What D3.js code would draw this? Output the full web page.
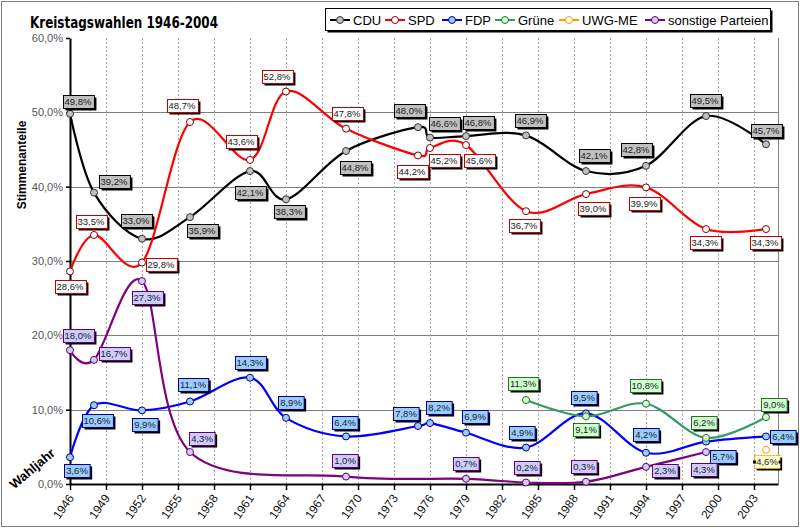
<!DOCTYPE html>
<html>
<head>
<meta charset="utf-8">
<script src="https://cdn.jsdelivr.net/npm/d3@7"></script>
<style>
  body { margin: 0; background: #fff; }
  svg { display: block; }
</style>
</head>
<body>
<div id="chart"></div>
<script>
// election years and results (%) per party, null = not on the ballot
var years    = [1946, 1948, 1952, 1956, 1961, 1964, 1969, 1975, 1976, 1979, 1984, 1989, 1994, 1999, 2004];
var cdu      = [49.8, 39.2, 33.0, 35.9, 42.1, 38.3, 44.8, 48.0, 46.6, 46.8, 46.9, 42.1, 42.8, 49.5, 45.7];
var spd      = [28.6, 33.5, 29.8, 48.7, 43.6, 52.8, 47.8, 44.2, 45.2, 45.6, 36.7, 39.0, 39.9, 34.3, 34.3];
var fdp      = [3.6, 10.6, 9.9, 11.1, 14.3, 8.9, 6.4, 7.8, 8.2, 6.9, 4.9, 9.5, 4.2, 5.7, 6.4];
var gruene   = [null, null, null, null, null, null, null, null, null, null, 11.3, 9.1, 10.8, 6.2, 9.0];
var uwg      = [null, null, null, null, null, null, null, null, null, null, null, null, null, null, 4.6];
var sonstige = [18.0, 16.7, 27.3, 4.3, null, null, 1.0, null, null, 0.7, 0.2, 0.3, 2.3, 4.3, null];

var partyNames = ["CDU", "SPD", "FDP", "Grüne", "UWG-ME", "sonstige Parteien"];
var xTickYears = [1946, 1949, 1952, 1955, 1958, 1961, 1964, 1967, 1970, 1973, 1976, 1979, 1982, 1985, 1988, 1991, 1994, 1997, 2000, 2003];
var yTicks = [0, 10, 20, 30, 40, 50, 60];

// where each data label box sits, relative to its point (dx, dy of the box centre)
var cduLab  = [[8,-12],[20,-11],[-6,-18],[12,13],[0,21],[3,12],[9,17],[-9,-17],[14,-14],[12,-14],[4,-15],[8,-16],[-10,-16],[-1,-16],[0,-14]];
var spdLab  = [[0,15],[-3,-13],[19,2],[-8,-16],[-9,-18],[-9,-15],[1,-15],[-6,16],[14,12],[13,15],[-2,14],[7,14],[-2,16],[-1,13],[-1,13]];
var fdpLab  = [[7,13],[3,15],[3,14],[3,-17],[0,-15],[5,-15],[-1,-14],[-12,-13],[9,-16],[9,-16],[-4,-15],[-2,-16],[0,-18],[17,15],[17,0]];
var gruLab  = [null,null,null,null,null,null,null,null,null,null,[-3,-17],[0,13],[-1,-18],[-2,-15],[8,-13]];
var uwgLab  = [null,null,null,null,null,null,null,null,null,null,null,null,null,null,[1,12]];
var sonLab  = [[8,-15],[20,-6],[5,16],[12,-14],null,null,[-1,-16],null,null,[0,-15],[1,-15],[-2,-15],[19,4],[-2,17],null];

var width = 800, height = 528;
var margin = {top: 38, right: 22, bottom: 44, left: 70};

var x = d3.scaleLinear().domain([1946, 2005]).range([margin.left, width - margin.right]);
var y = d3.scaleLinear().domain([0, 60]).range([height - margin.bottom, margin.top]);

var series = [
  {name: partyNames[0], values: cdu,      labs: cduLab, line: "#000000", marker: "#c0c0c0", mstroke: "#333333", box: "#c0c0c0", boxStroke: "#000000"},
  {name: partyNames[1], values: spd,      labs: spdLab, line: "#ff0000", marker: "#ffffff", mstroke: "#800000", box: "#ffffff", boxStroke: "#c00000"},
  {name: partyNames[2], values: fdp,      labs: fdpLab, line: "#0000ff", marker: "#99ccff", mstroke: "#000080", box: "#99ccff", boxStroke: "#000080"},
  {name: partyNames[3], values: gruene,   labs: gruLab, line: "#339966", marker: "#ccffcc", mstroke: "#336633", box: "#ccffcc", boxStroke: "#336633"},
  {name: partyNames[4], values: uwg,      labs: uwgLab, line: "#ff9900", marker: "#ffffff", mstroke: "#ff9900", box: "#ffffcc", boxStroke: "#ff9900"},
  {name: partyNames[5], values: sonstige, labs: sonLab, line: "#800080", marker: "#ccccff", mstroke: "#660066", box: "#ccccff", boxStroke: "#660066"}
];

var fmt = function(v) { return v.toFixed(1).replace(".", ",") + "%"; };

var svg = d3.select("#chart").append("svg")
    .attr("width", width)
    .attr("height", height);

// outer chart border (dotted, like the excel frame)
svg.append("rect")
    .attr("x", 1.5).attr("y", 1.5)
    .attr("width", width - 3).attr("height", height - 3)
    .attr("fill", "#fff")
    .attr("stroke", "#000")
    .attr("stroke-dasharray", "1,1");

// horizontal gridlines
svg.append("g").selectAll("line")
    .data(yTicks.filter(function(d) { return d > 0 && d < 60; }))
    .enter().append("line")
    .attr("x1", x(1946)).attr("x2", x(2005))
    .attr("y1", function(d) { return Math.round(y(d)) + 0.5; })
    .attr("y2", function(d) { return Math.round(y(d)) + 0.5; })
    .attr("stroke", "#808080");

// vertical gridlines, dotted
svg.append("g").selectAll("line")
    .data(xTickYears.slice(1))
    .enter().append("line")
    .attr("x1", function(d) { return Math.round(x(d)) + 0.5; })
    .attr("x2", function(d) { return Math.round(x(d)) + 0.5; })
    .attr("y1", y(60)).attr("y2", y(0))
    .attr("stroke", "#aaa")
    .attr("stroke-dasharray", "2,2");

// right edge of plot area
svg.append("line")
    .attr("x1", Math.round(x(2005)) + 0.5).attr("x2", Math.round(x(2005)) + 0.5)
    .attr("y1", y(60)).attr("y2", y(0))
    .attr("stroke", "#808080");

// axes
var xAxis = svg.append("g")
    .attr("class", "x axis")
    .attr("transform", "translate(0," + y(0) + ")")
    .call(d3.axisBottom(x).tickValues(xTickYears).tickSize(6).tickSizeOuter(0).tickFormat(d3.format("d")));

xAxis.select(".domain").attr("stroke", "#000").attr("stroke-width", 2);
xAxis.selectAll(".tick line").attr("stroke", "#000").attr("stroke-width", 1.5);
xAxis.selectAll(".tick text")
    .attr("font-family", "Liberation Sans, Arial, sans-serif")
    .attr("font-size", "12px")
    .attr("fill", "#111")
    .attr("text-anchor", "end")
    .attr("dy", null)
    .attr("y", null)
    .attr("transform", "translate(4,14) rotate(-55)");

var yAxis = svg.append("g")
    .attr("class", "y axis")
    .attr("transform", "translate(" + x(1946) + ",0)")
    .call(d3.axisLeft(y).tickValues(yTicks).tickSize(4).tickSizeOuter(0).tickFormat(fmt));

yAxis.select(".domain").attr("stroke", "#000").attr("stroke-width", 2);
yAxis.selectAll(".tick line").attr("stroke", "#000").attr("stroke-width", 1.5);
yAxis.selectAll(".tick text")
    .attr("font-family", "Liberation Sans, Arial, sans-serif")
    .attr("font-size", "11px")
    .attr("fill", "#555");

// axis titles
svg.append("text")
    .attr("transform", "translate(26,165) rotate(-90)")
    .attr("text-anchor", "middle")
    .attr("font-family", "Liberation Sans, Arial, sans-serif")
    .attr("font-weight", "bold")
    .attr("font-size", "12px")
    .attr("fill", "#000")
    .text("Stimmenanteile");

svg.append("text")
    .attr("transform", "translate(35,472) rotate(-40)")
    .attr("text-anchor", "middle")
    .attr("font-family", "Liberation Sans, Arial, sans-serif")
    .attr("font-weight", "bold")
    .attr("font-size", "13px")
    .attr("fill", "#000")
    .text("Wahljahr");

// title
svg.append("text")
    .attr("x", 30).attr("y", 28)
    .attr("font-family", "DejaVu Sans, sans-serif")
    .attr("font-weight", "bold")
    .attr("font-size", "15px")
    .attr("textLength", 188)
    .attr("lengthAdjust", "spacingAndGlyphs")
    .text("Kreistagswahlen 1946-2004");

// smoothed lines like excel
var line = d3.line()
    .x(function(d) { return x(d.year); })
    .y(function(d) { return y(d.value); })
    .curve(d3.curveCardinal.tension(0));

series.forEach(function(s) {
  s.points = [];
  s.values.forEach(function(v, i) {
    if (v !== null) s.points.push({year: years[i], value: v, lab: s.labs[i]});
  });
});

var gLines = svg.append("g");
series.forEach(function(s) {
  if (s.points.length < 2) return;
  gLines.append("path")
      .datum(s.points)
      .attr("fill", "none")
      .attr("stroke", s.line)
      .attr("stroke-width", 2.2)
      .attr("d", line);
});

var gMarks = svg.append("g");
series.forEach(function(s) {
  gMarks.selectAll(null)
      .data(s.points)
      .enter().append("circle")
      .attr("cx", function(d) { return x(d.year); })
      .attr("cy", function(d) { return y(d.value); })
      .attr("r", 3.5)
      .attr("fill", s.marker)
      .attr("stroke", s.mstroke)
      .attr("stroke-width", 1);
});

// data labels: box + shadow + text
var gLabs = svg.append("g");
series.forEach(function(s, si) {
  s.points.forEach(function(d) {
    if (!d.lab) return;
    var cx = x(d.year) + d.lab[0],
        cy = y(d.value) + d.lab[1];
    var g = gLabs.append("g");
    var t = g.append("text")
        .attr("x", cx).attr("y", cy + 3.5)
        .attr("text-anchor", "middle")
        .attr("font-family", "Liberation Sans, Arial, sans-serif")
        .attr("font-size", "9.5px")
        .attr("fill", "#222")
        .text(fmt(d.value));
    var w = t.node().getComputedTextLength() + 4, h = 13;
    var bx = Math.round(cx - w / 2) + 0.5, by = Math.round(cy - h / 2) + 0.5;
    g.insert("rect", "text")
        .attr("x", bx + 2).attr("y", by + 2)
        .attr("width", w).attr("height", h)
        .attr("fill", "#000");
    g.insert("rect", "text")
        .attr("x", bx).attr("y", by)
        .attr("width", w).attr("height", h)
        .attr("fill", s.box)
        .attr("stroke", s.boxStroke)
        .attr("stroke-dasharray", si === 4 ? "2,1" : null);
    if (si === 4) {
      // the label is selected in the original, little handles on the sides
      [bx - 1.5, bx + w - 1.5].forEach(function(hx) {
        g.append("rect")
            .attr("x", hx).attr("y", by + h / 2 - 1.5)
            .attr("width", 3).attr("height", 3)
            .attr("fill", "#000");
      });
    }
  });
});

// legend
var legX = [328, 383, 440, 493, 557, 643];
var leg = svg.append("g");
leg.append("rect")
    .attr("x", 327.5).attr("y", 10.5).attr("width", 445).attr("height", 22)
    .attr("fill", "#000");
leg.append("rect")
    .attr("x", 325.5).attr("y", 8.5).attr("width", 445).attr("height", 22)
    .attr("fill", "#fff")
    .attr("stroke", "#000");

series.forEach(function(s, i) {
  var lx = legX[i], ly = 20;
  leg.append("line")
      .attr("x1", lx + 2).attr("x2", lx + 22)
      .attr("y1", ly).attr("y2", ly)
      .attr("stroke", s.line)
      .attr("stroke-width", 2);
  leg.append("circle")
      .attr("cx", lx + 12).attr("cy", ly)
      .attr("r", 3.5)
      .attr("fill", s.marker)
      .attr("stroke", s.mstroke);
  leg.append("text")
      .attr("x", lx + 25).attr("y", ly + 4.5)
      .attr("font-family", "Liberation Sans, Arial, sans-serif")
      .attr("font-size", "13px")
      .attr("fill", "#000")
      .text(s.name);
});
</script>
</body>
</html>
